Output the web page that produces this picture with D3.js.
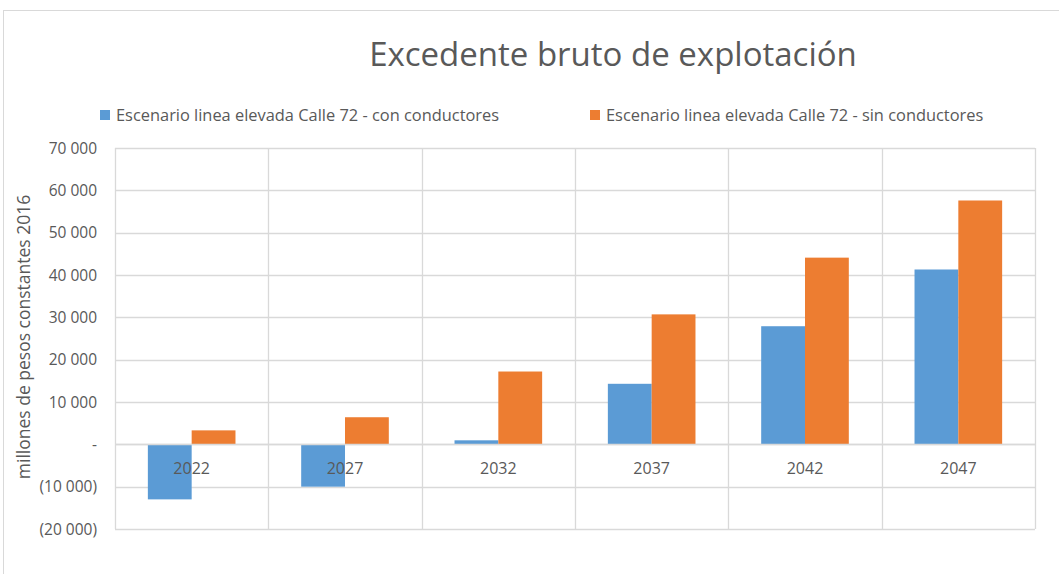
<!DOCTYPE html>
<html><head><meta charset="utf-8">
<script src="https://cdn.jsdelivr.net/npm/d3@7"></script>
<style>body{margin:0;background:#fff}svg{display:block}</style>
</head><body>
<script>
const categories = ["2022","2027","2032","2037","2042","2047"];
const seriesNames = ["Escenario linea elevada Calle 72 - con conductores","Escenario linea elevada Calle 72 - sin conductores"];
const conConductores = [-13000, -10000, 950, 14300, 27900, 41300];
const sinConductores = [3300, 6400, 17200, 30700, 44100, 57600];
const yTicks = [-20000,-10000,0,10000,20000,30000,40000,50000,60000,70000];
const colors = ["#5B9BD5","#ED7D31"];

const W=1059,H=574;
const font="'Open Sans', 'Liberation Sans', sans-serif";
const svg=d3.select("body").append("svg").attr("width",W).attr("height",H);
svg.append("rect").attr("x",3.5).attr("y",10.5).attr("width",W+10).attr("height",H+10).attr("fill","#fff").attr("stroke","#d9d9d9");

const L=115,R=1035,T=148,B=529;
const x=d3.scaleBand().domain(categories).range([L,R]).paddingInner(0).paddingOuter(0);
const y=d3.scaleLinear().domain([-20000,70000]).range([B,T]);

// horizontal grid
svg.append("g").selectAll("line").data(yTicks).join("line")
 .attr("x1",L).attr("x2",R).attr("y1",d=>Math.round(y(d))+0.5).attr("y2",d=>Math.round(y(d))+0.5)
 .attr("stroke","#d9d9d9").attr("stroke-width",1.3);
// vertical grid
const vx=categories.map(c=>x(c)).concat([R]);
svg.append("g").selectAll("line").data(vx).join("line")
 .attr("x1",d=>Math.round(d)+0.5).attr("x2",d=>Math.round(d)+0.5).attr("y1",T).attr("y2",B)
 .attr("stroke","#d9d9d9").attr("stroke-width",1.3);

const gap=1.5;
const bw=x.bandwidth()/(2+gap);
const series=[conConductores,sinConductores];
series.forEach((vals,si)=>{
 svg.append("g").selectAll("rect").data(vals).join("rect")
  .attr("x",(d,i)=>x(categories[i])+bw*gap/2+si*bw)
  .attr("width",bw)
  .attr("y",d=>Math.min(y(d),y(0)))
  .attr("height",d=>Math.abs(y(d)-y(0)))
  .attr("fill",colors[si]);
});

// zero line
svg.append("line").attr("x1",L).attr("x2",R).attr("y1",Math.round(y(0))+0.5).attr("y2",Math.round(y(0))+0.5).attr("stroke","#d9d9d9").attr("stroke-width",1.5);

// x labels
svg.append("g").selectAll("text").data(categories).join("text")
 .attr("x",d=>x(d)+x.bandwidth()/2).attr("y",y(0)+30)
 .attr("text-anchor","middle").attr("font-family",font).attr("font-size",16).attr("fill","#595959").text(d=>d);

// y axis labels
const fmt=d=>{ if(d===0) return "-"; const s=d3.format(",")(Math.abs(d)).replace(/,/g," "); return d<0?"("+s+")":s; };
svg.append("g").selectAll("text").data(yTicks).join("text")
 .attr("x",97).attr("y",d=>y(d)+5.5).attr("text-anchor","end")
 .attr("font-family",font).attr("font-size",15.5).attr("fill","#595959").text(fmt);

// y title
svg.append("text").attr("transform","translate(30,337) rotate(-90)").attr("text-anchor","middle")
 .attr("font-family",font).attr("font-size",17.5).attr("fill","#595959").text("millones de pesos constantes 2016");

// title
svg.append("text").attr("x",613).attr("y",66).attr("text-anchor","middle")
 .attr("font-family",font).attr("font-size",33).attr("fill","#595959").text("Excedente bruto de explotación");

// legend
const legX=[100,590];
seriesNames.forEach((n,i)=>{
 svg.append("rect").attr("x",legX[i]).attr("y",110).attr("width",10).attr("height",10).attr("fill",colors[i]);
 svg.append("text").attr("x",legX[i]+16).attr("y",120.5).attr("font-family",font).attr("font-size",16.4).attr("fill","#595959").text(n);
});
</script>
</body></html>
